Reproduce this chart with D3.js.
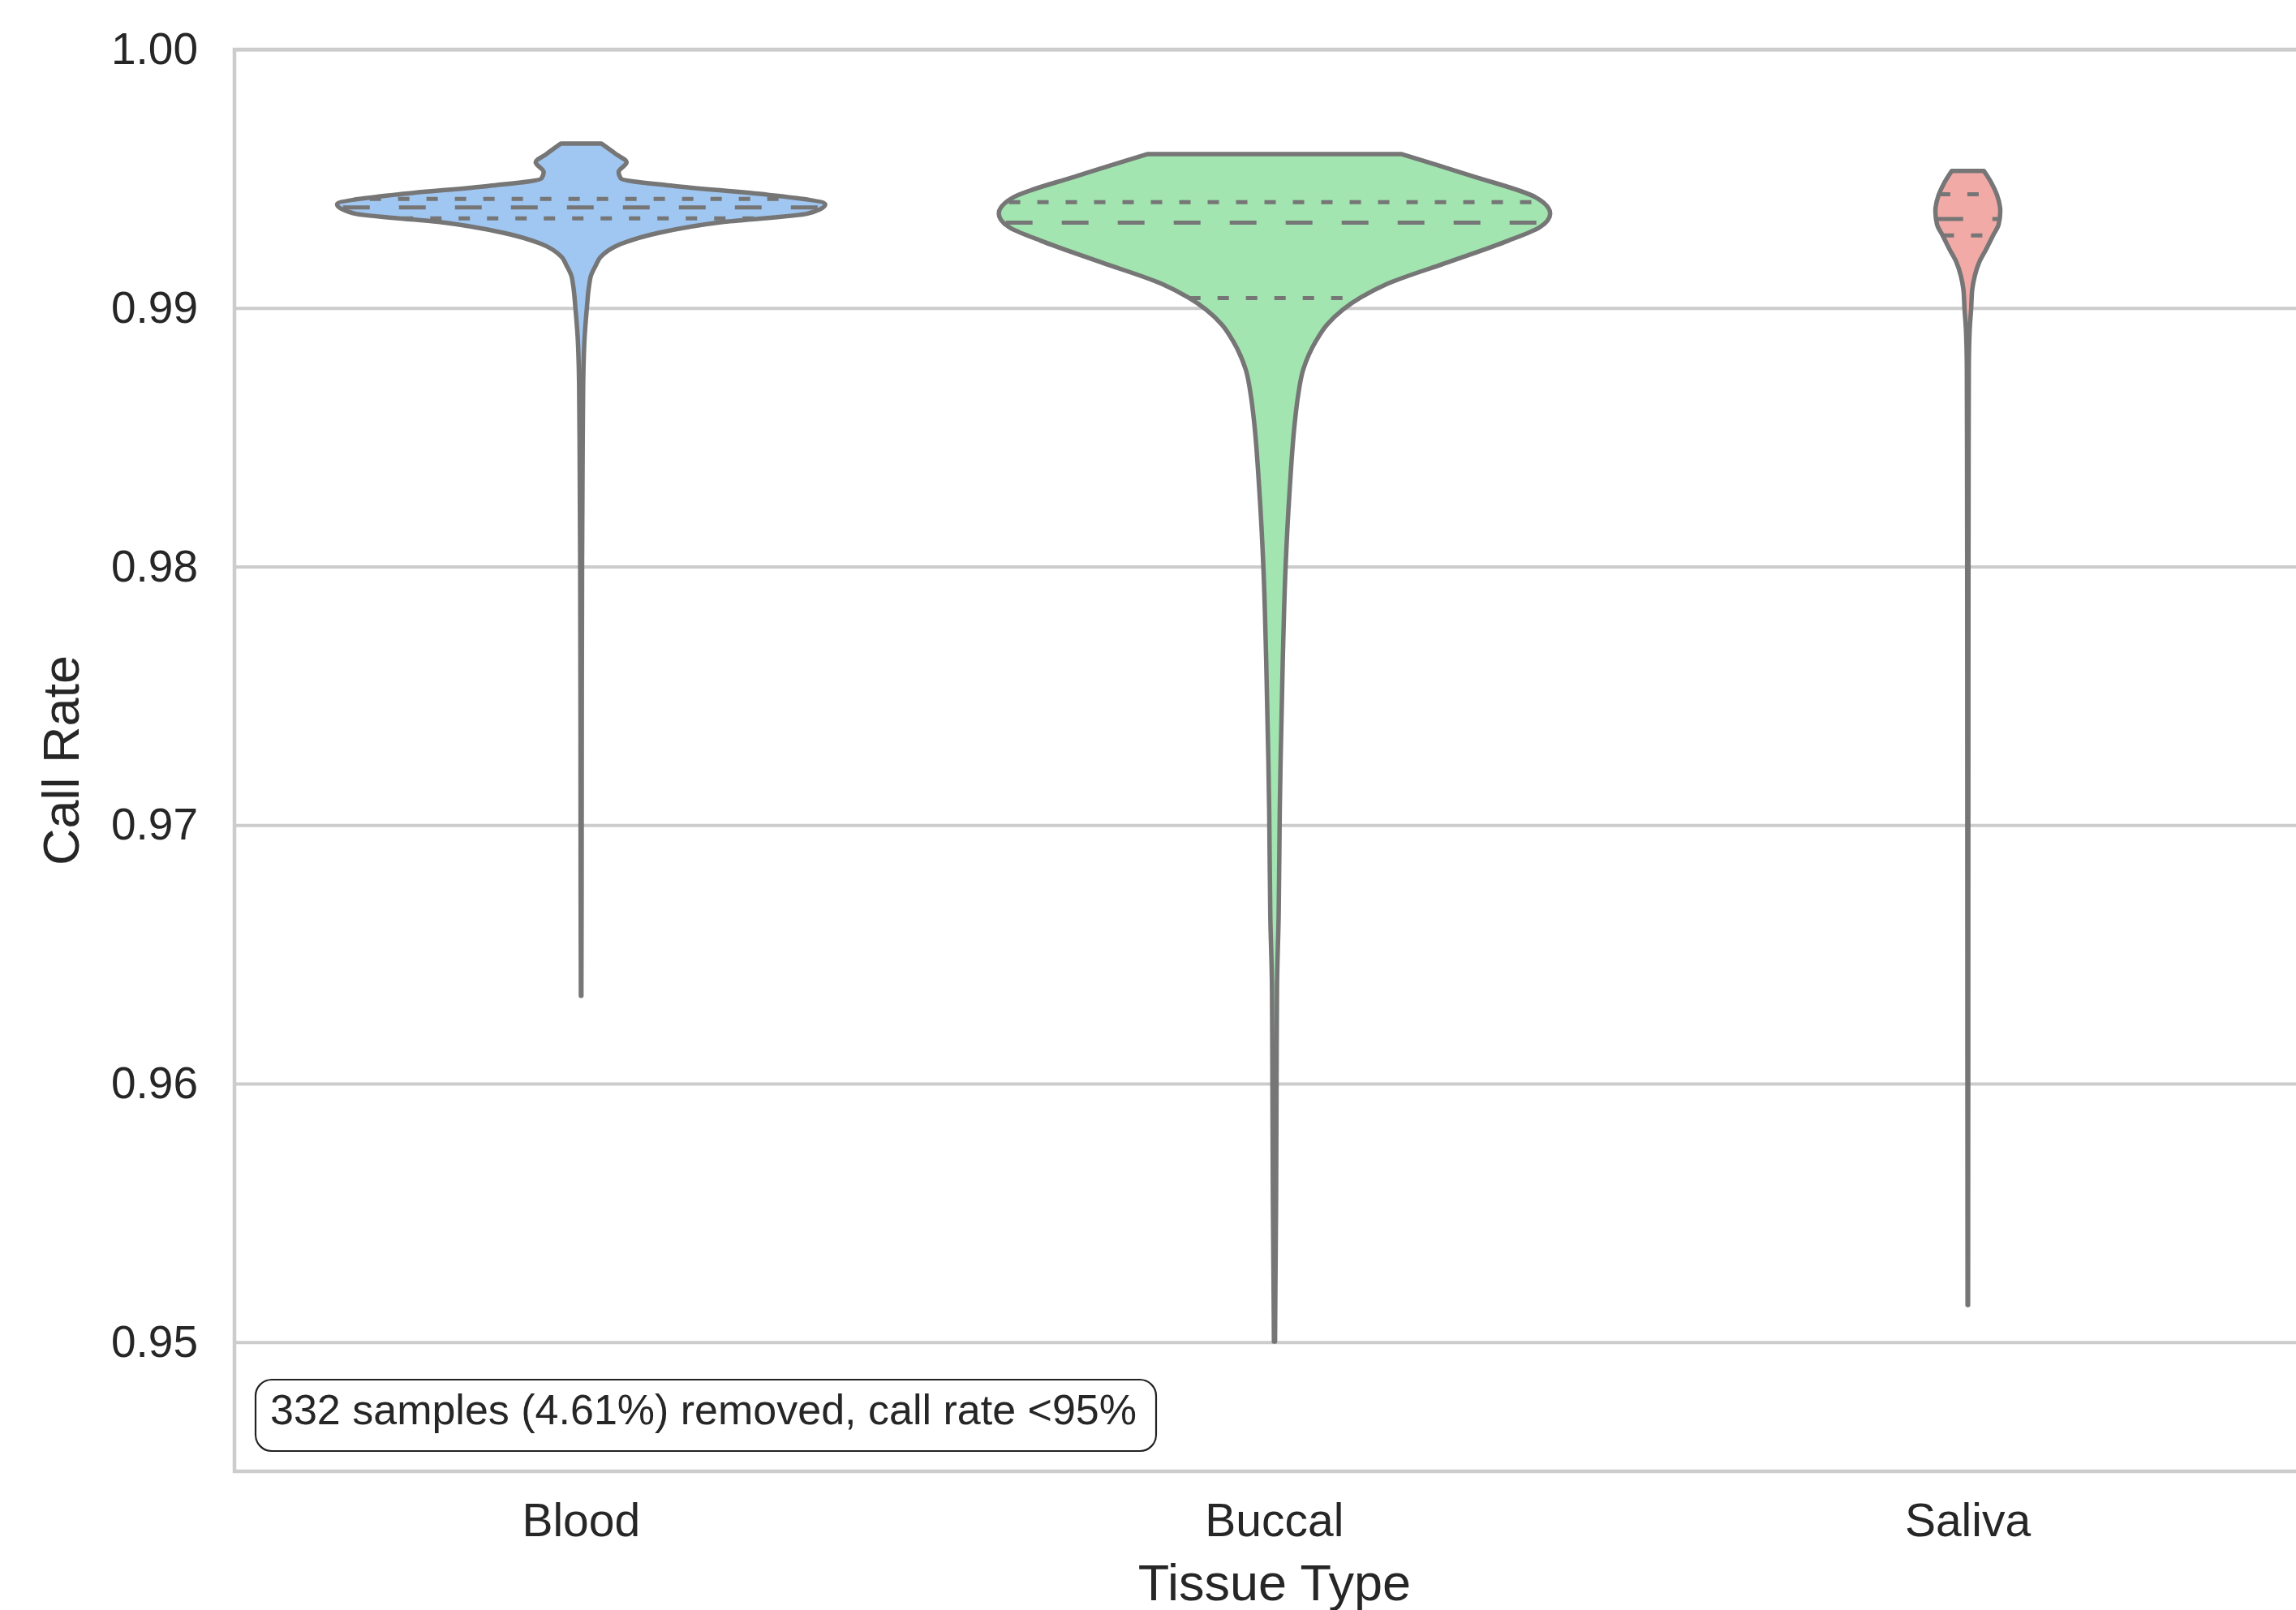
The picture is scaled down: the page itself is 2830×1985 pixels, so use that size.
<!DOCTYPE html>
<meta charset="utf-8">
<title>Call rate by tissue type</title>
<script src="https://d3js.org/d3.v7.min.js"></script>
<style>
    body { margin: 0; background: #fff; }
    svg { display: block; font-family: "Liberation Sans", Arial, sans-serif; }
    .grid line { stroke: #cccccc; stroke-width: 4; }
    .tick text { fill: #262626; }
</style>
<body>
<svg id="chart" width="2830" height="1985"></svg>
<script>
    // categories and colours (seaborn pastel, desaturated)
    var categories = ["Blood", "Buccal", "Saliva"];
    var fills = ["#a0c7f1", "#a2e5b0", "#f2aaa7"];
    var yTicks = [0.95, 0.96, 0.97, 0.98, 0.99, 1.00];

    // density profiles: [call rate, relative density]
    var bloodDensity = [
        [0.99636, 0.073], [0.99595, 0.126], [0.99564, 0.164], [0.99526, 0.135],
        [0.99501, 0.143], [0.99472, 0.333], [0.99438, 0.673], [0.99401, 0.880],
        [0.99365, 0.816], [0.99333, 0.515], [0.99291, 0.281], [0.99250, 0.149],
        [0.99197, 0.070], [0.99165, 0.053], [0.99124, 0.035], [0.99089, 0.029],
        [0.98992, 0.020], [0.98895, 0.013], [0.98703, 0.0073], [0.98414, 0.0053],
        [0.98028, 0.0035], [0.97356, 0.0023], [0.96738, 0.0018], [0.96339, 0.0009]
    ];
    var buccalDensity = [
        [0.99595, 0.459], [0.99511, 0.711], [0.99428, 0.942], [0.99365, 0.994],
        [0.99312, 0.956], [0.99260, 0.842], [0.99176, 0.623], [0.99093, 0.406],
        [0.99040, 0.310], [0.98936, 0.190], [0.98873, 0.150], [0.98763, 0.104],
        [0.98660, 0.085], [0.98565, 0.074], [0.98301, 0.055], [0.97997, 0.040],
        [0.97642, 0.030], [0.97246, 0.022], [0.97052, 0.019], [0.96644, 0.015],
        [0.96370, 0.009], [0.95959, 0.0073], [0.95551, 0.0058], [0.95168, 0.003],
        [0.95002, 0.002]
    ];
    var salivaDensity = [
        [0.99530, 0.058], [0.99484, 0.085], [0.99438, 0.105], [0.99375, 0.117],
        [0.99323, 0.111], [0.99281, 0.091], [0.99229, 0.067], [0.99177, 0.041],
        [0.99124, 0.025], [0.99072, 0.016], [0.98998, 0.012], [0.98915, 0.0067],
        [0.98758, 0.0035], [0.97994, 0.0023], [0.97052, 0.0018], [0.96110, 0.0015],
        [0.95143, 0.0009]
    ];

    // quartiles per category
    var q1 = [0.99347, 0.99038, 0.99281];
    var medians = [0.99389, 0.99330, 0.99344];
    var q3 = [0.99422, 0.99409, 0.99440];

    var note = "332 samples (4.61%) removed, call rate <95%";

    var profiles = [bloodDensity, buccalDensity, salivaDensity];

    var mLeft = 289, mTop = 61, mBottom = 1814;
    var plotW = 3 * 854.6;
    var svg = d3.select("#chart");

    var x = d3.scaleBand().domain(categories).range([mLeft, mLeft + plotW]);
    var y = d3.scaleLinear().domain([0.945, 1.00]).range([mBottom, mTop]);
    var w = d3.scaleLinear().domain([0, 1]).range([0, 0.4 * x.bandwidth()]);
    var gray = "#767676";

    // grid + y tick labels
    var gy = svg.append("g")
        .attr("class", "grid")
        .attr("transform", "translate(" + mLeft + ",0)")
        .call(d3.axisLeft(y).tickValues(yTicks).tickSize(-plotW).tickPadding(45)
            .tickFormat(d3.format(".2f")));
    gy.select(".domain").remove();
    gy.selectAll("text").attr("font-size", 55);

    // x tick labels
    var gx = svg.append("g")
        .attr("transform", "translate(0," + mBottom + ")")
        .call(d3.axisBottom(x).tickSize(0).tickPadding(40));
    gx.select(".domain").remove();
    gx.selectAll("text").attr("font-size", 57);

    // spines
    svg.append("path")
        .attr("d", "M" + (mLeft + plotW) + "," + mTop + "H" + mLeft + "V" + mBottom + "H" + (mLeft + plotW))
        .attr("fill", "none").attr("stroke", "#cccccc").attr("stroke-width", 4.5);

    function densityAt(profile, v) {
        for (var i = 0; i < profile.length - 1; i++) {
            var a = profile[i], b = profile[i + 1];
            if (v <= a[0] && v >= b[0]) {
                return a[1] + (b[1] - a[1]) * (a[0] - v) / (a[0] - b[0]);
            }
        }
        return 0;
    }

    var violins = svg.append("g");
    categories.forEach(function (cat, i) {
        var cx = x(cat) + x.bandwidth() / 2;
        var area = d3.area()
            .curve(d3.curveMonotoneY)
            .y(function (d) { return y(d[0]); })
            .x0(function (d) { return cx - w(d[1]); })
            .x1(function (d) { return cx + w(d[1]); });

        violins.append("path")
            .attr("d", area(profiles[i]))
            .attr("fill", fills[i])
            .attr("stroke", gray)
            .attr("stroke-width", 5.5)
            .attr("stroke-linejoin", "round");

        var lines = [
            { v: q1[i], dash: "14 21" },
            { v: medians[i], dash: "33 36" },
            { v: q3[i], dash: "14 21" }
        ];
        lines.forEach(function (l) {
            var hw = w(densityAt(profiles[i], l.v));
            violins.append("line")
                .attr("x1", cx - hw).attr("x2", cx + hw)
                .attr("y1", y(l.v)).attr("y2", y(l.v))
                .attr("stroke", gray)
                .attr("stroke-width", 5)
                .attr("stroke-dasharray", l.dash);
        });
    });

    // axis labels
    svg.append("text")
        .attr("x", mLeft + plotW / 2).attr("y", 1973)
        .attr("text-anchor", "middle")
        .attr("font-size", 63).attr("fill", "#262626")
        .text("Tissue Type");

    svg.append("text")
        .attr("transform", "translate(97," + (mTop + mBottom) / 2 + ") rotate(-90)")
        .attr("text-anchor", "middle")
        .attr("font-size", 63).attr("fill", "#262626")
        .text("Call Rate");

    // annotation box, lower left of the axes
    var ann = svg.append("g");
    var box = ann.append("rect");
    var t = ann.append("text")
        .attr("x", mLeft + 44).attr("y", 1756)
        .attr("font-size", 52).attr("fill", "#262626")
        .text(note);
    var bb = t.node().getBBox();
    box.attr("x", bb.x - 18).attr("y", bb.y - 8)
        .attr("width", bb.width + 42).attr("height", bb.height + 30)
        .attr("rx", 20).attr("ry", 20)
        .attr("fill", "#fff").attr("stroke", "#222").attr("stroke-width", 2.2);
</script>
</body>
